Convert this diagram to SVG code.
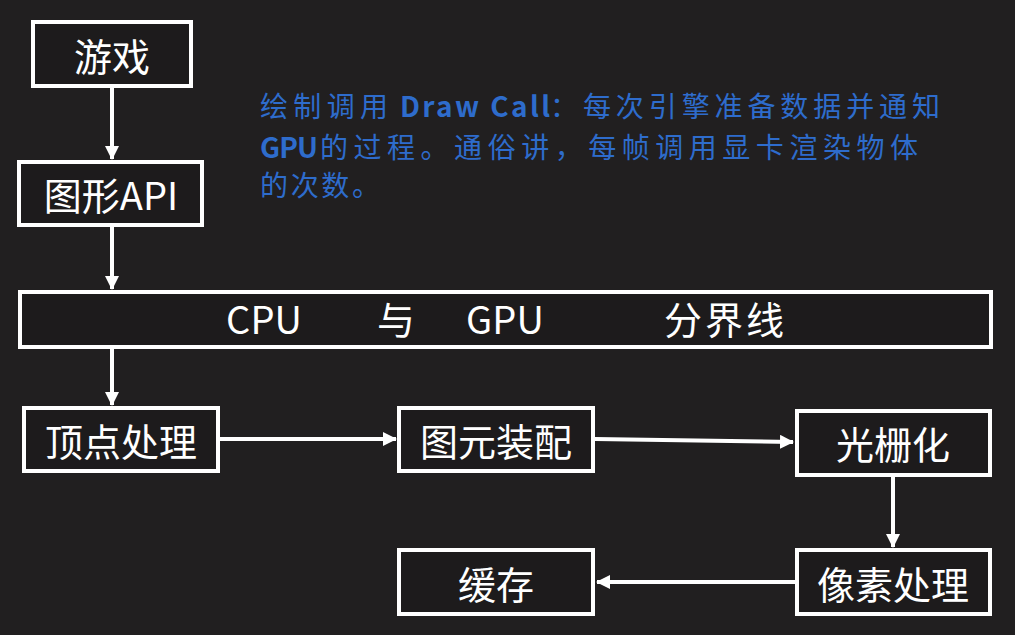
<svg xmlns="http://www.w3.org/2000/svg" width="1015" height="635" viewBox="0 0 1015 635">
<style>
.box{fill:#1d1b1c;stroke:#ffffff;stroke-width:4}
.lbl{fill:#ffffff;font-family:"Noto Sans CJK SC","Noto Sans",sans-serif;font-size:38px;text-anchor:middle;dominant-baseline:central}
.bar{fill:#ffffff;font-family:"Noto Sans CJK SC","Noto Sans",sans-serif;font-size:38px}
.con{stroke:#ffffff;stroke-width:4;fill:none}
.note{fill:#2e6ccc;font-family:"Noto Sans CJK SC","Noto Sans",sans-serif;font-size:28px}
.b{font-weight:bold}
</style>
<defs>
<marker id="ah" markerUnits="userSpaceOnUse" markerWidth="14" markerHeight="14" viewBox="0 0 14 14" refX="13" refY="7" orient="auto">
<path d="M0,0 L14,7 L0,14 Z" fill="#ffffff"/>
</marker>
</defs>
<rect width="1015" height="635" fill="#211f20"/>
<g id="connectors">
<line class="con" x1="112" y1="88" x2="112" y2="159" marker-end="url(#ah)"/>
<line class="con" x1="112" y1="227" x2="112" y2="289" marker-end="url(#ah)"/>
<line class="con" x1="112" y1="349" x2="112" y2="405" marker-end="url(#ah)"/>
<line class="con" x1="220" y1="439" x2="396" y2="439" marker-end="url(#ah)"/>
<line class="con" x1="595" y1="439" x2="793" y2="442" marker-end="url(#ah)"/>
<line class="con" x1="893" y1="477" x2="893" y2="547" marker-end="url(#ah)"/>
<line class="con" x1="795" y1="582" x2="597" y2="582" marker-end="url(#ah)"/>
</g>
<g id="game"><rect class="box" x="33" y="22" width="158" height="64"/><text class="lbl" x="112" y="54">游戏</text></g>
<g id="api"><rect class="box" x="19" y="162" width="183" height="63"/><text class="lbl" x="111" y="193">图形API</text></g>
<g id="divider"><rect class="box" x="20" y="292" width="971" height="55"/>
<text class="bar" x="226" y="334" textLength="76">CPU</text><text class="bar" x="377" y="334">与</text><text class="bar" x="466" y="334" textLength="78">GPU</text><text class="bar" x="664" y="334" textLength="120">分界线</text></g>
<g id="vertex"><rect class="box" x="24" y="408" width="194" height="63"/><text class="lbl" x="121" y="439">顶点处理</text></g>
<g id="primitive"><rect class="box" x="399" y="408" width="194" height="63"/><text class="lbl" x="496" y="439">图元装配</text></g>
<g id="raster"><rect class="box" x="797" y="411" width="193" height="64"/><text class="lbl" x="893" y="442">光栅化</text></g>
<g id="pixel"><rect class="box" x="797" y="550" width="193" height="64"/><text class="lbl" x="893" y="582">像素处理</text></g>
<g id="buffer"><rect class="box" x="399" y="550" width="194" height="64"/><text class="lbl" x="496" y="582">缓存</text></g>
<g id="note">
<text class="note" x="260" y="117" textLength="128" lengthAdjust="spacing">绘制调用</text>
<text class="note b" x="400" y="117" textLength="150">Draw Call</text>
<text class="note" x="550" y="117" textLength="390" lengthAdjust="spacing">：每次引擎准备数据并通知</text>
<text class="note b" x="260" y="158" textLength="58">GPU</text>
<text class="note" x="320" y="158" textLength="598" lengthAdjust="spacing">的过程。通俗讲，每帧调用显卡渲染物体</text>
<text class="note" x="260" y="196" textLength="120" lengthAdjust="spacing">的次数。</text>
</g>
</svg>
